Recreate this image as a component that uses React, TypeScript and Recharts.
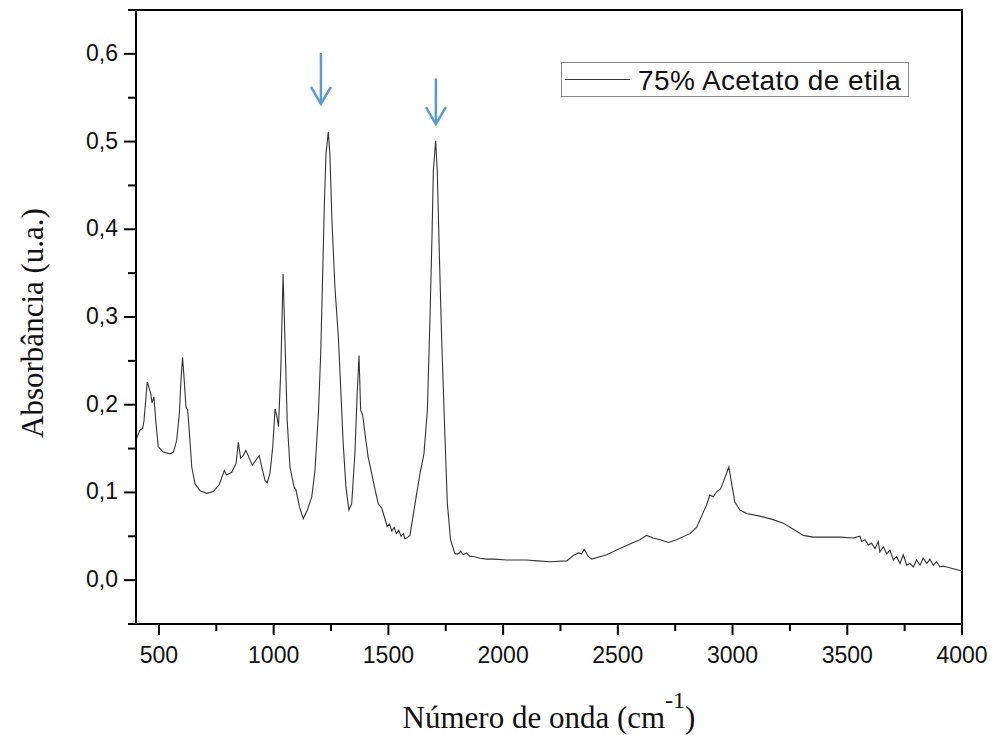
import React from 'react';
import {
  LineChart,
  Line,
  XAxis,
  YAxis,
  ReferenceArea,
  ReferenceLine,
  Legend,
} from 'recharts';

// FTIR spectrum
const wavenumber = [
  400, 417, 429, 435, 449, 464, 470, 478, 487, 497, 519, 548, 563, 577, 589, 596, 603, 609, 618, 625,
  632, 643, 657, 679, 708, 737, 763, 785, 795, 817, 836, 846, 856, 868, 879, 892, 907, 923, 937, 948,
  962, 972, 984, 996, 1006, 1013, 1021, 1031, 1041, 1051, 1059, 1071, 1089, 1097, 1112, 1129, 1147, 1166, 1180, 1195,
  1205, 1214, 1221, 1228, 1238, 1245, 1254, 1267, 1282, 1292, 1303, 1315, 1328, 1340, 1354, 1364, 1372, 1379, 1388, 1398,
  1412, 1427, 1442, 1456, 1471, 1485, 1495, 1505, 1515, 1525, 1535, 1545, 1555, 1565, 1572, 1585, 1594, 1616, 1638, 1655,
  1670, 1681, 1690, 1696, 1706, 1713, 1722, 1732, 1744, 1757, 1771, 1790, 1805, 1815, 1826, 1840, 1855, 1870, 1900, 1928,
  1960, 2015, 2060, 2103, 2150, 2204, 2277, 2306, 2328, 2342, 2354, 2371, 2386, 2451, 2509, 2560, 2596, 2625, 2654, 2684,
  2720, 2756, 2814, 2843, 2865, 2887, 2901, 2916, 2931, 2948, 2960, 2984, 2996, 3010, 3032, 3061, 3119, 3177, 3221, 3265,
  3308, 3352, 3410, 3468, 3526, 3555, 3563, 3577, 3592, 3606, 3621, 3635, 3642, 3657, 3672, 3686, 3701, 3715, 3730, 3744,
  3759, 3773, 3788, 3802, 3817, 3831, 3846, 3860, 3875, 3889, 3904, 3918, 3933, 3962, 3991, 4000,
];

const absorbance = [
  0.160, 0.171, 0.173, 0.182, 0.226, 0.213, 0.202, 0.209, 0.179, 0.152, 0.146, 0.144, 0.146, 0.159, 0.190, 0.228, 0.254, 0.232, 0.197, 0.194,
  0.171, 0.129, 0.110, 0.102, 0.099, 0.101, 0.109, 0.125, 0.120, 0.123, 0.133, 0.157, 0.139, 0.142, 0.148, 0.140, 0.131, 0.137, 0.142, 0.129,
  0.114, 0.111, 0.122, 0.152, 0.195, 0.188, 0.175, 0.239, 0.349, 0.258, 0.182, 0.129, 0.106, 0.103, 0.084, 0.070, 0.080, 0.095, 0.125, 0.190,
  0.258, 0.353, 0.429, 0.486, 0.511, 0.486, 0.410, 0.334, 0.277, 0.220, 0.156, 0.106, 0.080, 0.087, 0.144, 0.213, 0.256, 0.194, 0.188, 0.167,
  0.140, 0.122, 0.103, 0.087, 0.082, 0.070, 0.061, 0.064, 0.056, 0.060, 0.053, 0.057, 0.050, 0.053, 0.047, 0.049, 0.051, 0.087, 0.122, 0.144,
  0.194, 0.296, 0.391, 0.467, 0.501, 0.467, 0.372, 0.277, 0.182, 0.087, 0.046, 0.030, 0.030, 0.033, 0.029, 0.031, 0.027, 0.027, 0.025, 0.024,
  0.024, 0.023, 0.023, 0.023, 0.022, 0.021, 0.022, 0.028, 0.031, 0.030, 0.035, 0.027, 0.024, 0.029, 0.036, 0.042, 0.046, 0.051, 0.048, 0.046,
  0.043, 0.046, 0.053, 0.060, 0.073, 0.086, 0.097, 0.095, 0.101, 0.104, 0.112, 0.129, 0.110, 0.089, 0.080, 0.076, 0.073, 0.069, 0.065, 0.058,
  0.051, 0.049, 0.049, 0.049, 0.048, 0.050, 0.044, 0.046, 0.040, 0.042, 0.036, 0.044, 0.032, 0.038, 0.030, 0.034, 0.023, 0.027, 0.019, 0.029,
  0.017, 0.019, 0.015, 0.023, 0.017, 0.025, 0.019, 0.024, 0.017, 0.021, 0.015, 0.016, 0.015, 0.013, 0.011, 0.011,
];

const xTicks = [500, 750, 1000, 1250, 1500, 1750, 2000, 2250, 2500, 2750, 3000, 3250, 3500, 3750, 4000];
const yTicks = [-0.05, 0, 0.05, 0.1, 0.15, 0.2, 0.25, 0.3, 0.35, 0.4, 0.45, 0.5, 0.55, 0.6, 0.65];

// peaks marked with arrows: [wavenumber, top, tip]
const arrowMarks = [
  [1206, 0.601, 0.543],
  [1707, 0.572, 0.520],
];

const seriesName = '75% Acetato de etila';

const data = wavenumber.map((w, i) => ({ w, a: absorbance[i] }));

const SANS = '"Liberation Sans", Arial, sans-serif';
const SERIF = '"Liberation Serif", "Times New Roman", serif';
const ARROW = '#5b9bd5';

const XTick = (props: any) => {
  const { x, y, payload } = props;
  const major = payload.value % 500 === 0;
  return (
    <g>
      <line x1={x} y1={y} x2={x} y2={y + (major ? 11 : 7)} stroke="#000" strokeWidth={2} />
      {major && (
        <text x={x} y={y + 39} textAnchor="middle" fontFamily={SANS} fontSize={23} fill="#111">
          {payload.value}
        </text>
      )}
    </g>
  );
};

const YTick = (props: any) => {
  const { x, y, payload } = props;
  const major = Math.round(payload.value * 100) % 10 === 0;
  return (
    <g>
      <line x1={x - (major ? 12 : 8)} y1={y} x2={x} y2={y} stroke="#000" strokeWidth={2} />
      {major && (
        <text x={x - 18} y={y + 7} textAnchor="end" fontFamily={SANS} fontSize={23} fill="#111">
          {payload.value.toFixed(1).replace('.', ',')}
        </text>
      )}
    </g>
  );
};

const XTitle = (props: any) => {
  const { viewBox } = props;
  const cx = viewBox.x + viewBox.width / 2;
  return (
    <text x={cx} y={viewBox.y + 104} textAnchor="middle" fontFamily={SERIF} fontSize={31} fill="#111">
      <tspan>Número de onda (cm</tspan>
      <tspan dy={-20} fontSize={24}>-1</tspan>
      <tspan dy={20}>)</tspan>
    </text>
  );
};

const YTitle = (props: any) => {
  const { viewBox } = props;
  const cy = viewBox.y + viewBox.height / 2 + 6;
  return (
    <text
      x={43}
      y={cy}
      transform={`rotate(-90, 43, ${cy})`}
      textAnchor="middle"
      fontFamily={SERIF}
      fontSize={31}
      fill="#111"
    >
      Absorbância (u.a.)
    </text>
  );
};

const ArrowShape = (props: any) => {
  const { x1, y1, x2, y2 } = props;
  const top = Math.min(y1, y2);
  const tip = Math.max(y1, y2);
  return (
    <g>
      <line x1={x1} y1={top} x2={x1} y2={tip} stroke={ARROW} strokeWidth={2.5} />
      <polyline
        points={`${x1 - 10},${tip - 17} ${x1},${tip} ${x1 + 10},${tip - 17}`}
        fill="none"
        stroke={ARROW}
        strokeWidth={2.5}
      />
    </g>
  );
};

const LegendBox = () => (
  <svg width={348} height={35} style={{ display: 'block' }}>
    <rect x={0.5} y={0.5} width={347} height={34} fill="#fff" stroke="#888" />
    <line x1={4} y1={17.5} x2={69} y2={17.5} stroke="#333" strokeWidth={1} />
    <text x={77} y={28} fontFamily={SANS} fontSize={28} letterSpacing={0.4} fill="#111">
      {seriesName}
    </text>
  </svg>
);

export default function App() {
  return (
    <div style={{ position: 'absolute', left: 0, top: 0, width: 997, height: 735, background: '#fff' }}>
      <LineChart width={997} height={735} data={data} margin={{ top: 10, right: 35, bottom: 0, left: 0 }}>
        <XAxis
          dataKey="w"
          type="number"
          domain={[400, 4000]}
          allowDataOverflow
          ticks={xTicks}
          interval={0}
          tickSize={0}
          tickMargin={0}
          tickLine={false}
          tick={<XTick />}
          axisLine={{ stroke: '#000', strokeWidth: 2 }}
          height={111}
          label={<XTitle />}
        />
        <YAxis
          type="number"
          domain={[-0.05, 0.65]}
          allowDataOverflow
          ticks={yTicks}
          interval={0}
          tickSize={0}
          tickMargin={0}
          tickLine={false}
          tick={<YTick />}
          axisLine={{ stroke: '#000', strokeWidth: 2 }}
          width={136}
          label={<YTitle />}
        />
        <ReferenceArea x1={400} x2={4000} y1={-0.05} y2={0.65} fill="none" stroke="#000" strokeWidth={2} />
        <Line
          type="linear"
          dataKey="a"
          name={seriesName}
          stroke="#333"
          strokeWidth={1.1}
          dot={false}
          isAnimationActive={false}
        />
        {arrowMarks.map(([w, top, tip], i) => (
          <ReferenceLine
            key={i}
            segment={[{ x: w, y: top }, { x: w, y: tip }]}
            stroke={ARROW}
            shape={<ArrowShape />}
          />
        ))}
        <Legend
          layout="horizontal"
          verticalAlign="middle"
          align="center"
          wrapperStyle={{ left: 561, top: 62, width: 348, height: 35 }}
          content={<LegendBox />}
        />
      </LineChart>
    </div>
  );
}
